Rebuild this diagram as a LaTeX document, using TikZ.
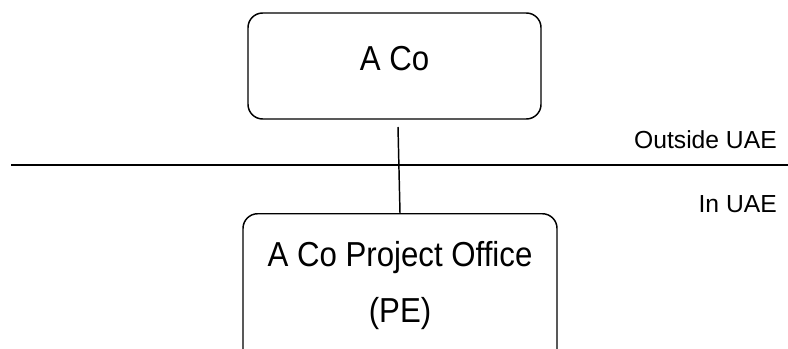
\documentclass[tikz,border=0pt]{standalone}
\usepackage{fontspec}
\setmainfont{Liberation Sans}
\newfontfamily\narrowfont[FakeStretch=0.9]{Liberation Sans}
\usepackage{tikz}
\usetikzlibrary{positioning}

\tikzset{
  entity/.style={draw=black, line width=1.1pt, rounded corners=11pt},
  bigtext/.style={font=\narrowfont\fontsize{26}{42}\selectfont},
  regiontext/.style={anchor=base east, inner sep=0pt, font=\fontsize{18.5}{20}\selectfont},
}

\begin{document}
\begin{tikzpicture}[x=0.75pt,y=-0.75pt]
\useasboundingbox (0,0) rectangle (788,349);

% the two companies
\node[entity, bigtext, minimum width=219.75pt, minimum height=79.5pt, text depth=12pt] (aco) at (394.5,66) {A Co};
\node[entity, minimum width=235.5pt, minimum height=130pt, anchor=north] (pe) at (400,213) {};
\node[bigtext, align=center, inner sep=0pt, below=21pt of pe.north] (petext) {A Co Project Office\\(PE)};

% border line
\coordinate (westend) at (11,165);
\coordinate (eastend) at (788,165);
\draw[line width=1.1pt] (westend) -- (eastend);
\node[regiontext] (outside) at (777,148) {Outside UAE};
\node[regiontext] (inside) at (777,212) {In UAE};

\coordinate (linetop) at (398,127);
\draw[line width=1.1pt] (linetop) -- (pe.north);
\end{tikzpicture}
\end{document}
